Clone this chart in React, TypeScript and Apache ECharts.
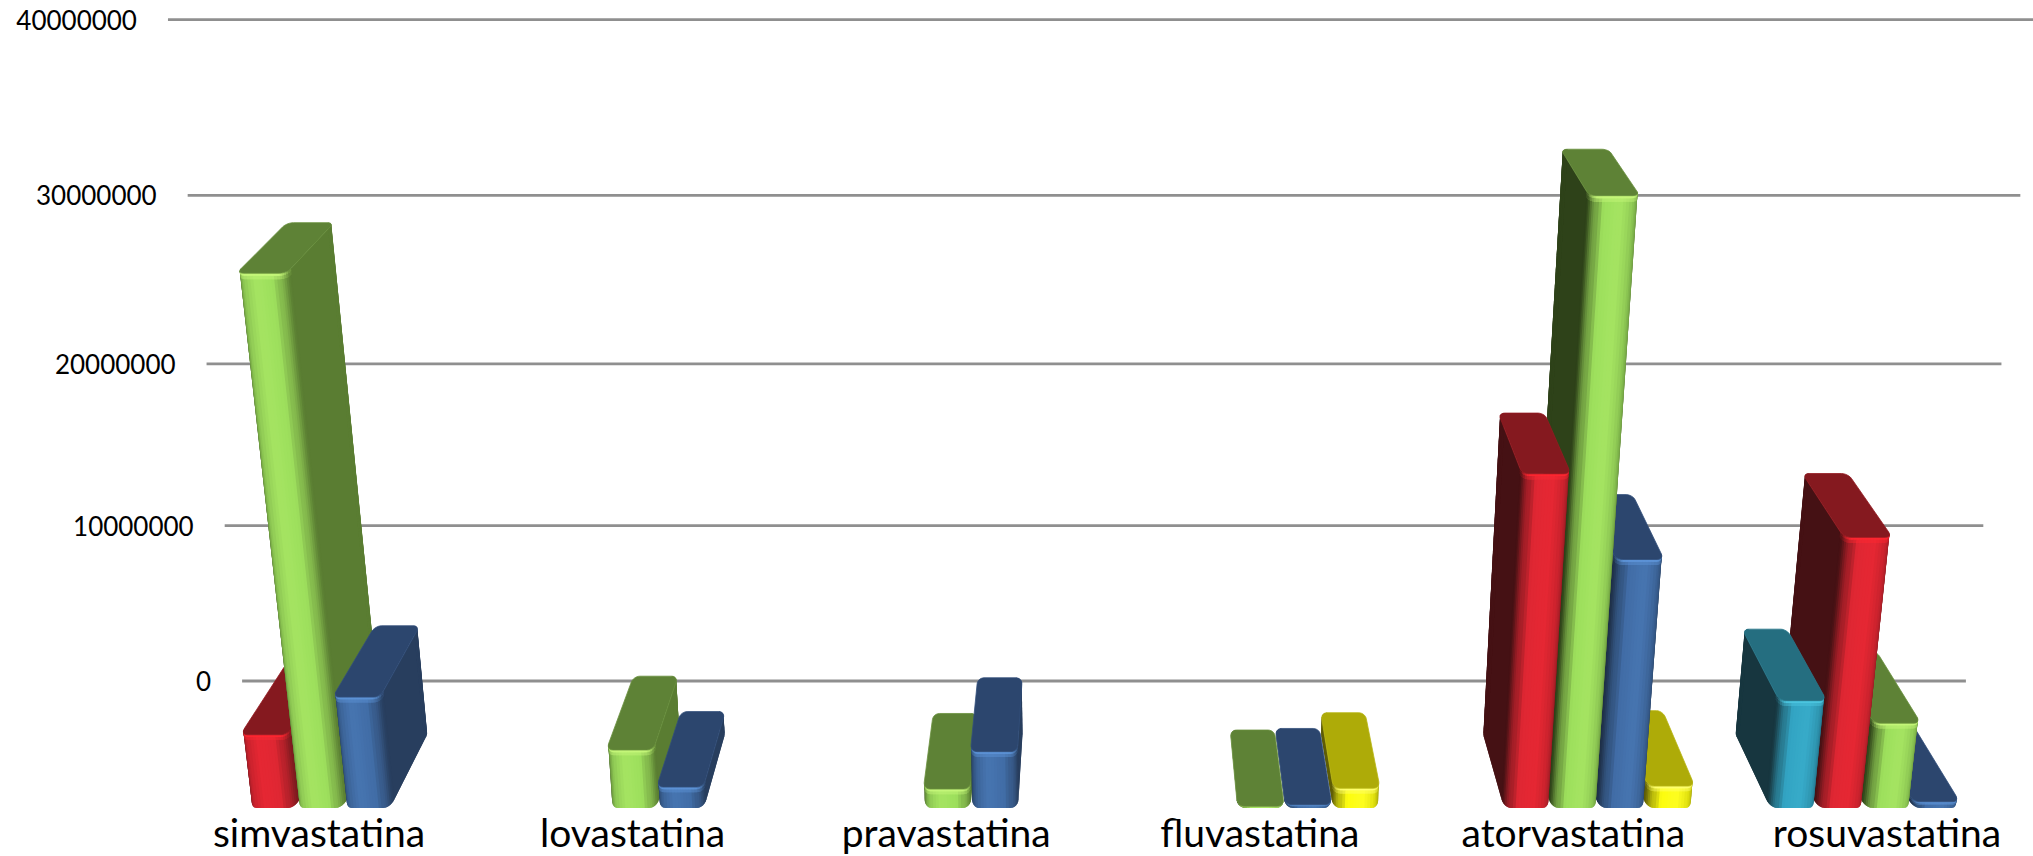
import React, { useEffect, useRef } from "react";
import * as echarts from "echarts";

// Prescriptions per statin, split by five series (null = the series has no bar there).
const categories = ["simvastatina", "lovastatina", "pravastatina", "fluvastatina", "atorvastatina", "rosuvastatina"];
const tealValues = [null, null, null, null, null, 6430000];
const redValues = [4410000, null, null, null, 19450000, 15880000];
const greenValues = [30350000, 3500000, 1150000, 100000, 34420000, 5100000];
const blueValues = [6640000, 1270000, 3400000, 200000, 14620000, 380000];
const yellowValues = [null, null, null, 1200000, 1330000, null];
const axisTicks = [0, 10000000, 20000000, 30000000, 40000000];

const WIDTH = 2033;
const HEIGHT = 856;
const GRID_LEFT = 248.1;
const GRID_WIDTH = 1711.8;
const GRID_TOP = 100;
const GRID_HEIGHT = 600;
const AXIS_MAX = 40000000;

// Camera: vertical edges meet far below the page, depth edges far above it.
const VANISH_X = 1104;
const FLOOR_Y = 681;
const VERTICAL_VANISH_Y = 8370;
const DEPTH_VANISH_Y = -600;
const HEIGHT_W = -0.0198;
const BAR_LEAN = -0.001;
const FRONT_T = 0.0902;
const BACK_T = 0.038;
const SLOT = 47.6 * (1 - FRONT_T);
const BAR_W = SLOT - 0.8;
const RX = 6;
const RT = 0.0045;

const FONT = "Lato, 'Open Sans', sans-serif";

type Shade = { front: string; top: string; right: string; left: string; glow: string };
const shades: Shade[] = [
  { front: "#33a5c4", top: "#256e80", right: "#1f5766", left: "#17363f", glow: "#4cc6e0" },
  { front: "#e02733", top: "#85191f", right: "#7a1a1e", left: "#451114", glow: "#ff2630" },
  { front: "#9ee05d", top: "#5e8236", right: "#5a7d32", left: "#2e4219", glow: "#c6f77a" },
  { front: "#426ea8", top: "#2c466e", right: "#283e5e", left: "#1e3048", glow: "#5d94d8" },
  { front: "#fdfd10", top: "#aeab08", right: "#8e8c06", left: "#5e5c05", glow: "#ffff70" },
];
const seriesValues = [tealValues, redValues, greenValues, blueValues, yellowValues];

const hex = (c: string) => [1, 3, 5].map((i) => parseInt(c.slice(i, i + 2), 16));
const mix = (a: string, b: string, k: number) => {
  const A = hex(a);
  const B = hex(b);
  return "#" + A.map((v, i) => Math.round(v + (B[i] - v) * k).toString(16).padStart(2, "0")).join("");
};
const smooth = (k: number) => k * k * (3 - 2 * k);

// Plane position (wall pixels, height in axis tens of millions, depth) to screen.
const project = (px: number, v: number, t: number, lean = 0): number[] => {
  const h = 1 + HEIGHT_W * v - t;
  return [
    VANISH_X + (px - VANISH_X) / (h + lean * v),
    (FLOOR_Y + VERTICAL_VANISH_Y * HEIGHT_W * v - DEPTH_VANISH_Y * t) / h,
  ];
};
const projectBar = (px: number, v: number, t: number) => project(px, v, t, BAR_LEAN);
const planeHeight = (py: number) => ((GRID_TOP + GRID_HEIGHT - py) / GRID_HEIGHT) * (AXIS_MAX / 10000000);

type Sample = { x: number; t: number; color: string; lift: number; rim: number };

// Walks the bar's rounded footprint from the hidden edge, over the front, down the visible side.
const footprint = (x0: number, x1: number, s: Shade, sideRight: boolean): Sample[] => {
  const out: Sample[] = [];
  const mx = (x: number) => (sideRight ? x : x0 + x1 - x);
  const side = sideRight ? s.right : s.left;
  const far = sideRight ? s.left : s.right;
  const cy = FRONT_T - RT;
  const steps = 6;
  for (let i = 0; i <= steps; i++) {
    const k = i / steps;
    const a = (k * Math.PI) / 2;
    out.push({
      x: mx(x0 + RX - RX * Math.cos(a)),
      t: cy + RT * Math.sin(a),
      color: mix(mix(far, "#000000", 0.25), mix(s.front, "#000000", 0.12), Math.pow(k, 0.7)),
      lift: (1 - k) * 0.014,
      rim: k,
    });
  }
  const runs = 12;
  for (let i = 1; i <= runs; i++) {
    const u = i / runs;
    const bell = Math.sin(Math.PI * Math.min(1, u * 1.4));
    const shadeIn = 0.12 * Math.max(0, 1 - u * 3);
    const shadeOut = 0.35 * smooth(Math.max(0, (u - 0.8) / 0.2));
    out.push({
      x: mx(x0 + RX + (x1 - x0 - 2 * RX) * u),
      t: FRONT_T,
      color: mix(mix(mix(s.front, "#000000", shadeIn), s.glow, 0.15 * bell), side, shadeOut),
      lift: 0,
      rim: 1,
    });
  }
  const edge = mix(s.front, side, 0.35);
  for (let i = 1; i <= steps; i++) {
    const k = i / steps;
    const a = (k * Math.PI) / 2;
    out.push({
      x: mx(x1 - RX + RX * Math.sin(a)),
      t: cy + RT * Math.cos(a),
      color: mix(edge, side, smooth(k)),
      lift: k * 0.01,
      rim: 1 - k,
    });
  }
  const back = BACK_T + RT;
  out.push({ x: mx(x1), t: back, color: side, lift: 0.01, rim: 0 });
  for (let i = 1; i <= steps; i++) {
    const a = ((i / steps) * Math.PI) / 2;
    out.push({
      x: mx(x1 - RX + RX * Math.cos(a)),
      t: back - RT * Math.sin(a),
      color: side,
      lift: 0.01,
      rim: 0,
    });
  }
  return out;
};

const plateOutline = (x0: number, x1: number) => {
  const pts: number[][] = [];
  const corners = [
    [x0 + RX, BACK_T + RT, Math.PI],
    [x1 - RX, BACK_T + RT, Math.PI * 1.5],
    [x1 - RX, FRONT_T - RT, 0],
    [x0 + RX, FRONT_T - RT, Math.PI * 0.5],
  ];
  corners.forEach(([cx, cy, start]) => {
    for (let i = 0; i <= 6; i++) {
      const a = start + ((i / 6) * Math.PI) / 2;
      pts.push([cx + RX * Math.cos(a), cy + RT * Math.sin(a)]);
    }
  });
  return pts;
};

// Back-to-front paint order: bars nearest the vanishing line go last on each half of the page.
const barData: number[][] = [];
categories.forEach((_, c) => {
  const slots = [0, 1, 2, 3, 4];
  const ordered = c < categories.length / 2 ? slots : slots.slice().reverse();
  ordered.forEach((s) => {
    const value = seriesValues[s][c];
    if (value !== null) barData.push([c, value, s]);
  });
});

const renderBar = (_: any, api: any) => {
  const c = api.value(0);
  const value = api.value(1);
  const s = api.value(2);
  const pos = api.coord([c, value]);
  const cx = pos[0] + (s - 2) * SLOT;
  const v = planeHeight(pos[1]);
  const x0 = cx - BAR_W / 2;
  const x1 = cx + BAR_W / 2;
  const shade = shades[s];
  const sideRight = cx < VANISH_X;
  const samples = footprint(x0, x1, shade, sideRight);
  const children: any[] = [];
  const poly = (points: number[][], fill: string) =>
    children.push({ type: "polygon", shape: { points }, style: { fill }, silent: true });
  const last = samples.length - 1;
  // Each strip runs one sample past its own end, so the next strip paints over a solid edge.
  for (let i = 0; i < last; i++) {
    const a = samples[i];
    const b = samples[Math.min(i + 2, last)];
    const liftA = Math.min(a.lift, v * 0.4);
    const liftB = Math.min(b.lift, v * 0.4);
    poly(
      [projectBar(a.x, liftA, a.t), projectBar(b.x, liftB, b.t), projectBar(b.x, v, b.t), projectBar(a.x, v, a.t)],
      samples[i + 1].color
    );
  }
  // Lit rim just under the top plate, strongest across the front.
  const wide = Math.min(0.032, v * 0.5);
  const thin = Math.min(0.013, v * 0.25);
  [
    [wide, 0.45],
    [thin, 0.95],
  ].forEach(([depth, strength]) => {
    for (let i = 0; i < last; i++) {
      const a = samples[i];
      const next = samples[i + 1];
      const b = samples[Math.min(i + 2, last)];
      if (next.rim <= 0.05) continue;
      poly(
        [projectBar(a.x, v - depth, a.t), projectBar(b.x, v - depth, b.t), projectBar(b.x, v, b.t), projectBar(a.x, v, a.t)],
        mix(next.color, shade.glow, strength * next.rim)
      );
    }
  });
  const plate = plateOutline(x0, x1).map(([x, t]) => projectBar(x, v, t));
  children.push({
    type: "polygon",
    shape: { points: plate },
    style: { fill: shade.top, stroke: mix(shade.top, shade.glow, 0.12), lineWidth: 0.8 },
    silent: true,
  });
  return { type: "group", children };
};

const renderTick = (_: any, api: any) => {
  const value = api.value(0);
  const first = api.coord([0, value]);
  const final = api.coord([categories.length - 1, value]);
  const band = api.size([1, 0])[0];
  const v = planeHeight(first[1]);
  const a = project(first[0] - band / 2 - 6, v, 0);
  const b = project(final[0] + band / 2 + 6, v, 0);
  return {
    type: "group",
    children: [
      {
        type: "line",
        shape: { x1: a[0], y1: a[1], x2: b[0], y2: b[1] },
        style: { stroke: "#8f8f8f", lineWidth: 2.8 },
        silent: true,
      },
      {
        type: "text",
        style: {
          x: a[0] - 31,
          y: a[1],
          text: String(value),
          fill: "#000000",
          fontSize: 26,
          fontFamily: FONT,
          align: "right",
          verticalAlign: "middle",
        },
        silent: true,
      },
    ],
  };
};

const renderCategory = (params: any, api: any) => {
  const c = api.value(0);
  const name = categories[params.dataIndex];
  const p = api.coord([c, 0]);
  const foot = project(p[0], 0, FRONT_T);
  return {
    type: "text",
    style: {
      x: foot[0] - 1,
      y: foot[1] + 24,
      text: name,
      fill: "#000000",
      fontSize: 39,
      fontFamily: FONT,
      align: "center",
      verticalAlign: "middle",
    },
    silent: true,
  };
};

export default function App() {
  const ref = useRef<HTMLDivElement>(null);
  useEffect(() => {
    const chart = echarts.init(ref.current!, undefined, { renderer: "svg" });
    chart.setOption({
      animation: false,
      backgroundColor: "#ffffff",
      grid: { left: GRID_LEFT, width: GRID_WIDTH, top: GRID_TOP, height: GRID_HEIGHT },
      xAxis: { type: "category", data: categories, show: false },
      yAxis: { type: "value", min: 0, max: AXIS_MAX, interval: 10000000, show: false },
      series: [
        { type: "custom", renderItem: renderTick, data: axisTicks.map((t) => [t]), encode: { y: 0 }, silent: true, z: 1 },
        { type: "custom", renderItem: renderBar, data: barData, silent: true, z: 2 },
        { type: "custom", renderItem: renderCategory, data: categories.map((_, i) => [i, 0]), silent: true, z: 3 },
      ],
    });
    return () => chart.dispose();
  }, []);
  return <div ref={ref} style={{ position: "absolute", left: 0, top: 0, width: WIDTH, height: HEIGHT }} />;
}
